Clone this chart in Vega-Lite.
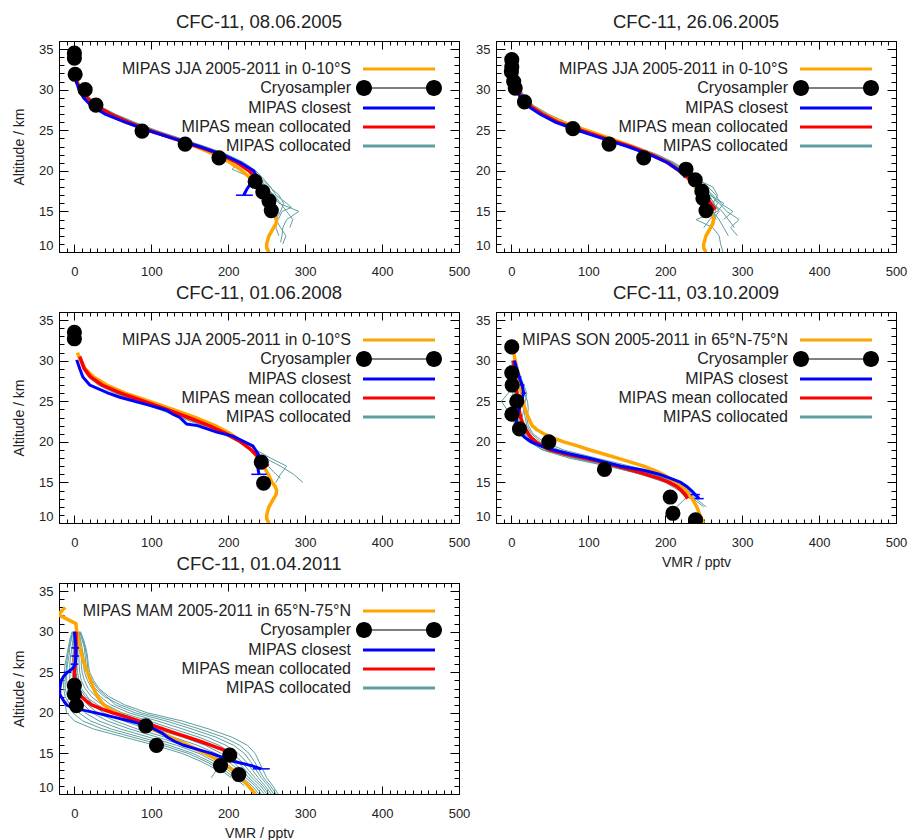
{
  "$schema": "https://vega.github.io/schema/vega-lite/v6.json",
  "background": "white",
  "padding": {"left": 12, "top": 12, "right": 5, "bottom": 5},
  "columns": 2,
  "spacing": {"row": 60, "column": 37},
  "bounds": "flush",
  "resolve": {"scale": {"fill": "independent"}, "legend": {"fill": "independent"}},
  "datasets": {
    "jja": [{"a":31,"v":4},{"a":30,"v":8},{"a":29,"v":14},{"a":28,"v":25},{"a":27,"v":42},{"a":26,"v":66},{"a":25,"v":97},{"a":24,"v":128},{"a":23,"v":157},{"a":22,"v":183},{"a":21,"v":203},{"a":20,"v":218},{"a":19,"v":230},{"a":18,"v":239},{"a":17,"v":246},{"a":16,"v":252},{"a":15,"v":257},{"a":14.5,"v":261},{"a":14,"v":263},{"a":13.5,"v":262},{"a":13,"v":259},{"a":12,"v":253},{"a":11,"v":250},{"a":10.5,"v":250},{"a":10,"v":253}],
    "son": [{"a":31.5,"v":2},{"a":31,"v":3},{"a":30,"v":5},{"a":29,"v":7},{"a":28,"v":9},{"a":27,"v":11},{"a":26,"v":13},{"a":25,"v":15},{"a":24,"v":18},{"a":23,"v":22},{"a":22,"v":27},{"a":21.5,"v":33},{"a":21,"v":42},{"a":20.5,"v":54},{"a":20,"v":68},{"a":19.5,"v":86},{"a":19,"v":102},{"a":18.5,"v":120},{"a":18,"v":138},{"a":17.5,"v":155},{"a":17,"v":172},{"a":16.5,"v":186},{"a":16,"v":197},{"a":15.5,"v":206},{"a":15,"v":214},{"a":14,"v":227},{"a":13,"v":235},{"a":12,"v":241},{"a":11,"v":245},{"a":10,"v":250}],
    "mam": [{"a":33,"v":-12},{"a":32.1,"v":-21},{"a":31,"v":2},{"a":30,"v":3},{"a":29,"v":5},{"a":28,"v":7},{"a":27,"v":10},{"a":26,"v":13},{"a":25,"v":17},{"a":24,"v":21},{"a":23,"v":25},{"a":22,"v":30},{"a":21,"v":38},{"a":20.5,"v":45},{"a":20,"v":55},{"a":19.5,"v":67},{"a":19,"v":78},{"a":18.5,"v":90},{"a":18,"v":102},{"a":17,"v":125},{"a":16,"v":148},{"a":15,"v":170},{"a":14,"v":190},{"a":13,"v":205},{"a":12,"v":216},{"a":11,"v":226},{"a":10,"v":235}],
    "p1": [
      {"s":"mean","a":31,"v":2},{"s":"mean","a":30,"v":9},{"s":"mean","a":29,"v":16},{"s":"mean","a":28,"v":28},{"s":"mean","a":27,"v":47},{"s":"mean","a":26,"v":70},{"s":"mean","a":25,"v":97},{"s":"mean","a":24,"v":129},{"s":"mean","a":23,"v":161},{"s":"mean","a":22,"v":191},{"s":"mean","a":21,"v":212},{"s":"mean","a":20,"v":227},{"s":"mean","a":19,"v":237},{"s":"mean","a":18.5,"v":241},
      {"s":"closest","a":31.5,"v":1},{"s":"closest","a":30,"v":6},{"s":"closest","a":29,"v":12},{"s":"closest","a":28,"v":22},{"s":"closest","a":27,"v":40},{"s":"closest","a":26,"v":66},{"s":"closest","a":25,"v":95},{"s":"closest","a":24,"v":128},{"s":"closest","a":23,"v":162},{"s":"closest","a":22,"v":193},{"s":"closest","a":21,"v":216},{"s":"closest","a":20,"v":233},{"s":"closest","a":19.5,"v":236},{"s":"closest","a":18.7,"v":231},{"s":"closest","a":17.7,"v":224},{"s":"closest","a":17,"v":220},
      {"s":"err","a":17,"lo":210,"hi":232},
      {"s":"cryo","a":34.5,"v":0},{"s":"cryo","a":33.9,"v":0},{"s":"cryo","a":31.9,"v":1},{"s":"cryo","a":30,"v":14},{"s":"cryo","a":28.1,"v":28},{"s":"cryo","a":24.9,"v":88},{"s":"cryo","a":23.3,"v":144},{"s":"cryo","a":21.6,"v":188},{"s":"cryo","a":18.7,"v":235},{"s":"cryo","a":17.4,"v":245},{"s":"cryo","a":16.3,"v":253},{"s":"cryo","a":15.1,"v":256},
      {"s":"coll","p":1,"a":30,"v":12},{"s":"coll","p":1,"a":29,"v":19},{"s":"coll","p":1,"a":28,"v":31},{"s":"coll","p":1,"a":27,"v":52},{"s":"coll","p":1,"a":26,"v":77},{"s":"coll","p":1,"a":25,"v":104},{"s":"coll","p":1,"a":24,"v":136},{"s":"coll","p":1,"a":23,"v":167},{"s":"coll","p":1,"a":22,"v":196},{"s":"coll","p":1,"a":21,"v":217},{"s":"coll","p":1,"a":20,"v":231},{"s":"coll","p":1,"a":19,"v":241},{"s":"coll","p":1,"a":18,"v":250},{"s":"coll","p":1,"a":17,"v":258},{"s":"coll","p":1,"a":16,"v":266},{"s":"coll","p":1,"a":15,"v":292},{"s":"coll","p":1,"a":14,"v":276},{"s":"coll","p":1,"a":13,"v":271},{"s":"coll","p":1,"a":12,"v":270},{"s":"coll","p":1,"a":11.2,"v":268},
      {"s":"coll","p":2,"a":30,"v":10},{"s":"coll","p":2,"a":29,"v":17},{"s":"coll","p":2,"a":28,"v":29},{"s":"coll","p":2,"a":27,"v":49},{"s":"coll","p":2,"a":26,"v":74},{"s":"coll","p":2,"a":25,"v":101},{"s":"coll","p":2,"a":24,"v":133},{"s":"coll","p":2,"a":23,"v":165},{"s":"coll","p":2,"a":22,"v":195},{"s":"coll","p":2,"a":21,"v":218},{"s":"coll","p":2,"a":20,"v":234},{"s":"coll","p":2,"a":19,"v":243},{"s":"coll","p":2,"a":18,"v":254},{"s":"coll","p":2,"a":17,"v":266},{"s":"coll","p":2,"a":16,"v":272},{"s":"coll","p":2,"a":15,"v":268},{"s":"coll","p":2,"a":14,"v":262},{"s":"coll","p":2,"a":13,"v":268},{"s":"coll","p":2,"a":12,"v":275},{"s":"coll","p":2,"a":11,"v":271},
      {"s":"coll","p":3,"a":30,"v":11},{"s":"coll","p":3,"a":29,"v":18},{"s":"coll","p":3,"a":28,"v":30},{"s":"coll","p":3,"a":27,"v":50},{"s":"coll","p":3,"a":26,"v":76},{"s":"coll","p":3,"a":25,"v":103},{"s":"coll","p":3,"a":24,"v":135},{"s":"coll","p":3,"a":23,"v":167},{"s":"coll","p":3,"a":22,"v":196},{"s":"coll","p":3,"a":21,"v":214},{"s":"coll","p":3,"a":20.2,"v":205},{"s":"coll","p":3,"a":19.5,"v":222},{"s":"coll","p":3,"a":18.5,"v":240},{"s":"coll","p":3,"a":17,"v":250},{"s":"coll","p":3,"a":16,"v":258},{"s":"coll","p":3,"a":15,"v":264},{"s":"coll","p":3,"a":14,"v":260},
      {"s":"coll","p":4,"a":30,"v":13},{"s":"coll","p":4,"a":29,"v":20},{"s":"coll","p":4,"a":28,"v":33},{"s":"coll","p":4,"a":27,"v":53},{"s":"coll","p":4,"a":26,"v":78},{"s":"coll","p":4,"a":25,"v":106},{"s":"coll","p":4,"a":24,"v":138},{"s":"coll","p":4,"a":23,"v":170},{"s":"coll","p":4,"a":22,"v":199},{"s":"coll","p":4,"a":21,"v":221},{"s":"coll","p":4,"a":20,"v":236},{"s":"coll","p":4,"a":19,"v":246},{"s":"coll","p":4,"a":18,"v":255},{"s":"coll","p":4,"a":17,"v":262},{"s":"coll","p":4,"a":16,"v":276},{"s":"coll","p":4,"a":15.5,"v":282},{"s":"coll","p":4,"a":15,"v":270},{"s":"coll","p":4,"a":14,"v":265},
      {"s":"coll","p":5,"a":30,"v":9},{"s":"coll","p":5,"a":29,"v":16},{"s":"coll","p":5,"a":28,"v":28},{"s":"coll","p":5,"a":27,"v":48},{"s":"coll","p":5,"a":26,"v":72},{"s":"coll","p":5,"a":25,"v":100},{"s":"coll","p":5,"a":24,"v":131},{"s":"coll","p":5,"a":23,"v":163},{"s":"coll","p":5,"a":22,"v":192},{"s":"coll","p":5,"a":21,"v":213},{"s":"coll","p":5,"a":20,"v":229},{"s":"coll","p":5,"a":19,"v":239},{"s":"coll","p":5,"a":18,"v":246},{"s":"coll","p":5,"a":17,"v":252},{"s":"coll","p":5,"a":16,"v":258},{"s":"coll","p":5,"a":15,"v":262},{"s":"coll","p":5,"a":14,"v":264},{"s":"coll","p":5,"a":13,"v":262},{"s":"coll","p":5,"a":12,"v":266},
      {"s":"coll","p":6,"a":30,"v":12},{"s":"coll","p":6,"a":29,"v":19},{"s":"coll","p":6,"a":28,"v":32},{"s":"coll","p":6,"a":27,"v":51},{"s":"coll","p":6,"a":26,"v":76},{"s":"coll","p":6,"a":25,"v":103},{"s":"coll","p":6,"a":24,"v":134},{"s":"coll","p":6,"a":23,"v":166},{"s":"coll","p":6,"a":22,"v":195},{"s":"coll","p":6,"a":21,"v":216},{"s":"coll","p":6,"a":20,"v":228},{"s":"coll","p":6,"a":19,"v":236},{"s":"coll","p":6,"a":18,"v":247},{"s":"coll","p":6,"a":17,"v":260},{"s":"coll","p":6,"a":16,"v":268},{"s":"coll","p":6,"a":15,"v":276},{"s":"coll","p":6,"a":14,"v":284},{"s":"coll","p":6,"a":13,"v":280}
    ],
    "p2": [
      {"s":"mean","a":31,"v":3},{"s":"mean","a":30,"v":8},{"s":"mean","a":29,"v":14},{"s":"mean","a":28,"v":24},{"s":"mean","a":27,"v":40},{"s":"mean","a":26,"v":60},{"s":"mean","a":25,"v":90},{"s":"mean","a":24,"v":122},{"s":"mean","a":23,"v":154},{"s":"mean","a":22,"v":182},{"s":"mean","a":21,"v":204},{"s":"mean","a":20,"v":219},{"s":"mean","a":19,"v":232},{"s":"mean","a":18,"v":243},{"s":"mean","a":17,"v":252},{"s":"mean","a":16,"v":259},{"s":"mean","a":15.2,"v":265},
      {"s":"closest","a":31.5,"v":1},{"s":"closest","a":30,"v":6},{"s":"closest","a":29,"v":12},{"s":"closest","a":28,"v":21},{"s":"closest","a":27,"v":37},{"s":"closest","a":26,"v":57},{"s":"closest","a":25,"v":86},{"s":"closest","a":24,"v":118},{"s":"closest","a":23,"v":151},{"s":"closest","a":22,"v":180},{"s":"closest","a":21,"v":203},{"s":"closest","a":20,"v":218},{"s":"closest","a":19.5,"v":224},{"s":"closest","a":19.2,"v":226},
      {"s":"cryo","a":33.7,"v":0.5},{"s":"cryo","a":32.8,"v":0.5},{"s":"cryo","a":32.2,"v":0},{"s":"cryo","a":31,"v":3},{"s":"cryo","a":30.2,"v":5},{"s":"cryo","a":28.5,"v":17},{"s":"cryo","a":25.2,"v":80},{"s":"cryo","a":23.3,"v":127},{"s":"cryo","a":21.6,"v":172},{"s":"cryo","a":20.2,"v":227},{"s":"cryo","a":18.9,"v":239},{"s":"cryo","a":17.5,"v":247.6},{"s":"cryo","a":16.6,"v":249},{"s":"cryo","a":15.1,"v":253},
      {"s":"coll","p":1,"a":30,"v":10},{"s":"coll","p":1,"a":29,"v":16},{"s":"coll","p":1,"a":28,"v":27},{"s":"coll","p":1,"a":27,"v":44},{"s":"coll","p":1,"a":26,"v":66},{"s":"coll","p":1,"a":25,"v":94},{"s":"coll","p":1,"a":24,"v":126},{"s":"coll","p":1,"a":23,"v":157},{"s":"coll","p":1,"a":22,"v":185},{"s":"coll","p":1,"a":21,"v":207},{"s":"coll","p":1,"a":20,"v":222},{"s":"coll","p":1,"a":19,"v":236},{"s":"coll","p":1,"a":18,"v":250},{"s":"coll","p":1,"a":17,"v":262},{"s":"coll","p":1,"a":16,"v":270},{"s":"coll","p":1,"a":15,"v":280},{"s":"coll","p":1,"a":14,"v":296},{"s":"coll","p":1,"a":13,"v":285},{"s":"coll","p":1,"a":12,"v":294},
      {"s":"coll","p":2,"a":30,"v":9},{"s":"coll","p":2,"a":29,"v":15},{"s":"coll","p":2,"a":28,"v":26},{"s":"coll","p":2,"a":27,"v":43},{"s":"coll","p":2,"a":26,"v":65},{"s":"coll","p":2,"a":25,"v":93},{"s":"coll","p":2,"a":24,"v":124},{"s":"coll","p":2,"a":23,"v":155},{"s":"coll","p":2,"a":22,"v":183},{"s":"coll","p":2,"a":21,"v":205},{"s":"coll","p":2,"a":20,"v":221},{"s":"coll","p":2,"a":19,"v":234},{"s":"coll","p":2,"a":18,"v":246},{"s":"coll","p":2,"a":17,"v":258},{"s":"coll","p":2,"a":16,"v":276},{"s":"coll","p":2,"a":15,"v":268},{"s":"coll","p":2,"a":14,"v":240},{"s":"coll","p":2,"a":13,"v":262},{"s":"coll","p":2,"a":12,"v":270},{"s":"coll","p":2,"a":11,"v":272},{"s":"coll","p":2,"a":10,"v":275},
      {"s":"coll","p":3,"a":30,"v":11},{"s":"coll","p":3,"a":29,"v":17},{"s":"coll","p":3,"a":28,"v":29},{"s":"coll","p":3,"a":27,"v":46},{"s":"coll","p":3,"a":26,"v":69},{"s":"coll","p":3,"a":25,"v":97},{"s":"coll","p":3,"a":24,"v":129},{"s":"coll","p":3,"a":23,"v":160},{"s":"coll","p":3,"a":22,"v":188},{"s":"coll","p":3,"a":21,"v":210},{"s":"coll","p":3,"a":20,"v":226},{"s":"coll","p":3,"a":19,"v":240},{"s":"coll","p":3,"a":18,"v":262},{"s":"coll","p":3,"a":17,"v":268},{"s":"coll","p":3,"a":16,"v":262},{"s":"coll","p":3,"a":15,"v":274},{"s":"coll","p":3,"a":14,"v":282},{"s":"coll","p":3,"a":13,"v":290},
      {"s":"coll","p":4,"a":30,"v":10},{"s":"coll","p":4,"a":29,"v":17},{"s":"coll","p":4,"a":28,"v":28},{"s":"coll","p":4,"a":27,"v":45},{"s":"coll","p":4,"a":26,"v":67},{"s":"coll","p":4,"a":25,"v":95},{"s":"coll","p":4,"a":24,"v":127},{"s":"coll","p":4,"a":23,"v":158},{"s":"coll","p":4,"a":22,"v":186},{"s":"coll","p":4,"a":21,"v":208},{"s":"coll","p":4,"a":20,"v":223},{"s":"coll","p":4,"a":19,"v":237},{"s":"coll","p":4,"a":18,"v":248},{"s":"coll","p":4,"a":17,"v":256},{"s":"coll","p":4,"a":16,"v":264},{"s":"coll","p":4,"a":15,"v":262},{"s":"coll","p":4,"a":14,"v":270},{"s":"coll","p":4,"a":13,"v":276},{"s":"coll","p":4,"a":12,"v":282},
      {"s":"coll","p":5,"a":30,"v":8},{"s":"coll","p":5,"a":29,"v":14},{"s":"coll","p":5,"a":28,"v":25},{"s":"coll","p":5,"a":27,"v":42},{"s":"coll","p":5,"a":26,"v":64},{"s":"coll","p":5,"a":25,"v":92},{"s":"coll","p":5,"a":24,"v":123},{"s":"coll","p":5,"a":23,"v":154},{"s":"coll","p":5,"a":22,"v":182},{"s":"coll","p":5,"a":21,"v":204},{"s":"coll","p":5,"a":20,"v":219},{"s":"coll","p":5,"a":19,"v":232},{"s":"coll","p":5,"a":18,"v":244},{"s":"coll","p":5,"a":17,"v":254},{"s":"coll","p":5,"a":16,"v":258},{"s":"coll","p":5,"a":15,"v":266},{"s":"coll","p":5,"a":14,"v":258},{"s":"coll","p":5,"a":13,"v":250},
      {"s":"coll","p":6,"a":30,"v":12},{"s":"coll","p":6,"a":29,"v":18},{"s":"coll","p":6,"a":28,"v":30},{"s":"coll","p":6,"a":27,"v":48},{"s":"coll","p":6,"a":26,"v":71},{"s":"coll","p":6,"a":25,"v":99},{"s":"coll","p":6,"a":24,"v":131},{"s":"coll","p":6,"a":23,"v":162},{"s":"coll","p":6,"a":22,"v":190},{"s":"coll","p":6,"a":21,"v":212},{"s":"coll","p":6,"a":20,"v":228},{"s":"coll","p":6,"a":19,"v":244},{"s":"coll","p":6,"a":18,"v":256},{"s":"coll","p":6,"a":17,"v":266},{"s":"coll","p":6,"a":16,"v":272},{"s":"coll","p":6,"a":15,"v":288},{"s":"coll","p":6,"a":14,"v":276},
      {"s":"coll","p":7,"a":30,"v":10},{"s":"coll","p":7,"a":29,"v":16},{"s":"coll","p":7,"a":28,"v":27},{"s":"coll","p":7,"a":27,"v":45},{"s":"coll","p":7,"a":26,"v":68},{"s":"coll","p":7,"a":25,"v":96},{"s":"coll","p":7,"a":24,"v":128},{"s":"coll","p":7,"a":23,"v":159},{"s":"coll","p":7,"a":22,"v":187},{"s":"coll","p":7,"a":21,"v":208},{"s":"coll","p":7,"a":20,"v":224},{"s":"coll","p":7,"a":19,"v":238},{"s":"coll","p":7,"a":18,"v":252},{"s":"coll","p":7,"a":17,"v":260},{"s":"coll","p":7,"a":16,"v":268},{"s":"coll","p":7,"a":15,"v":262},{"s":"coll","p":7,"a":14,"v":266},
      {"s":"coll","p":8,"a":30,"v":9},{"s":"coll","p":8,"a":29,"v":15},{"s":"coll","p":8,"a":28,"v":26},{"s":"coll","p":8,"a":27,"v":44},{"s":"coll","p":8,"a":26,"v":66},{"s":"coll","p":8,"a":25,"v":94},{"s":"coll","p":8,"a":24,"v":125},{"s":"coll","p":8,"a":23,"v":156},{"s":"coll","p":8,"a":22,"v":184},{"s":"coll","p":8,"a":21,"v":206},{"s":"coll","p":8,"a":20,"v":222},{"s":"coll","p":8,"a":19,"v":235},{"s":"coll","p":8,"a":18,"v":247},{"s":"coll","p":8,"a":17,"v":257},{"s":"coll","p":8,"a":16,"v":263},{"s":"coll","p":8,"a":15,"v":270},{"s":"coll","p":8,"a":14,"v":262},{"s":"coll","p":8,"a":13,"v":258}
    ],
    "p3": [
      {"s":"mean","a":30.5,"v":7},{"s":"mean","a":30,"v":9},{"s":"mean","a":29,"v":13},{"s":"mean","a":28,"v":21},{"s":"mean","a":27,"v":36},{"s":"mean","a":26,"v":60},{"s":"mean","a":25,"v":90},{"s":"mean","a":24,"v":120},{"s":"mean","a":23,"v":148},{"s":"mean","a":22,"v":175},{"s":"mean","a":21,"v":198},{"s":"mean","a":20,"v":216},{"s":"mean","a":19,"v":230},{"s":"mean","a":18,"v":241},{"s":"mean","a":17,"v":252},
      {"s":"closest","a":30.1,"v":3},{"s":"closest","a":29,"v":7},{"s":"closest","a":28,"v":11},{"s":"closest","a":27,"v":20},{"s":"closest","a":26,"v":44},{"s":"closest","a":25.5,"v":59},{"s":"closest","a":24.5,"v":98},{"s":"closest","a":23.9,"v":120},{"s":"closest","a":23.4,"v":128},{"s":"closest","a":23,"v":137},{"s":"closest","a":22.2,"v":146},{"s":"closest","a":22,"v":160},{"s":"closest","a":21.2,"v":185},{"s":"closest","a":20.7,"v":206},{"s":"closest","a":19.5,"v":232},{"s":"closest","a":18.5,"v":239},{"s":"closest","a":17.5,"v":237},{"s":"closest","a":16,"v":240},
      {"s":"err","a":16,"lo":230,"hi":250},
      {"s":"cryo","a":33.5,"v":0},{"s":"cryo","a":32.7,"v":0},{"s":"cryo","a":17.5,"v":243},{"s":"cryo","a":14.9,"v":246},
      {"s":"coll","p":1,"a":30,"v":8},{"s":"coll","p":1,"a":29,"v":12},{"s":"coll","p":1,"a":28,"v":19},{"s":"coll","p":1,"a":27,"v":33},{"s":"coll","p":1,"a":26,"v":55},{"s":"coll","p":1,"a":25,"v":83},{"s":"coll","p":1,"a":24,"v":112},{"s":"coll","p":1,"a":23,"v":140},{"s":"coll","p":1,"a":22,"v":168},{"s":"coll","p":1,"a":21,"v":193},{"s":"coll","p":1,"a":20,"v":213},{"s":"coll","p":1,"a":19,"v":230},{"s":"coll","p":1,"a":18,"v":248},{"s":"coll","p":1,"a":17,"v":268},{"s":"coll","p":1,"a":16,"v":285},{"s":"coll","p":1,"a":15,"v":297},
      {"s":"coll","p":2,"a":30,"v":9},{"s":"coll","p":2,"a":29,"v":13},{"s":"coll","p":2,"a":28,"v":21},{"s":"coll","p":2,"a":27,"v":36},{"s":"coll","p":2,"a":26,"v":58},{"s":"coll","p":2,"a":25,"v":86},{"s":"coll","p":2,"a":24,"v":116},{"s":"coll","p":2,"a":23,"v":146},{"s":"coll","p":2,"a":22,"v":175},{"s":"coll","p":2,"a":21,"v":200},{"s":"coll","p":2,"a":20,"v":220},{"s":"coll","p":2,"a":19,"v":236},{"s":"coll","p":2,"a":18,"v":255},{"s":"coll","p":2,"a":17,"v":276},{"s":"coll","p":2,"a":16,"v":268},{"s":"coll","p":2,"a":15,"v":262},
      {"s":"coll","p":3,"a":30,"v":7},{"s":"coll","p":3,"a":29,"v":11},{"s":"coll","p":3,"a":28,"v":18},{"s":"coll","p":3,"a":27,"v":31},{"s":"coll","p":3,"a":26,"v":52},{"s":"coll","p":3,"a":25,"v":80},{"s":"coll","p":3,"a":24,"v":110},{"s":"coll","p":3,"a":23,"v":138},{"s":"coll","p":3,"a":22,"v":166},{"s":"coll","p":3,"a":21,"v":192},{"s":"coll","p":3,"a":20,"v":214},{"s":"coll","p":3,"a":19,"v":232},{"s":"coll","p":3,"a":18,"v":244},{"s":"coll","p":3,"a":17,"v":252},{"s":"coll","p":3,"a":16,"v":262},{"s":"coll","p":3,"a":15.5,"v":268}
    ],
    "p4": [
      {"s":"mean","a":30,"v":3},{"s":"mean","a":29,"v":4},{"s":"mean","a":28,"v":5},{"s":"mean","a":27,"v":6},{"s":"mean","a":26,"v":7},{"s":"mean","a":25,"v":8},{"s":"mean","a":24,"v":10},{"s":"mean","a":23,"v":12},{"s":"mean","a":22,"v":16},{"s":"mean","a":21,"v":22},{"s":"mean","a":20.5,"v":26},{"s":"mean","a":20,"v":32},{"s":"mean","a":19.5,"v":40},{"s":"mean","a":19,"v":50},{"s":"mean","a":18.5,"v":70},{"s":"mean","a":18,"v":95},{"s":"mean","a":17.5,"v":118},{"s":"mean","a":17,"v":138},{"s":"mean","a":16.5,"v":157},{"s":"mean","a":16,"v":175},{"s":"mean","a":15.5,"v":192},{"s":"mean","a":15,"v":205},{"s":"mean","a":14.5,"v":215},{"s":"mean","a":14,"v":221},{"s":"mean","a":13.5,"v":226},{"s":"mean","a":13,"v":229},
      {"s":"closest","a":30,"v":4},{"s":"closest","a":29,"v":7},{"s":"closest","a":28,"v":10},{"s":"closest","a":27,"v":14},{"s":"closest","a":26,"v":16},{"s":"closest","a":25,"v":13},{"s":"closest","a":24,"v":10},{"s":"closest","a":23,"v":7},{"s":"closest","a":22,"v":6},{"s":"closest","a":21.5,"v":8},{"s":"closest","a":21,"v":12},{"s":"closest","a":20.5,"v":18},{"s":"closest","a":20,"v":26},{"s":"closest","a":19.5,"v":38},{"s":"closest","a":19,"v":55},{"s":"closest","a":18.5,"v":76},{"s":"closest","a":18,"v":100},{"s":"closest","a":17.5,"v":122},{"s":"closest","a":17,"v":142},{"s":"closest","a":16.5,"v":172},{"s":"closest","a":16,"v":192},{"s":"closest","a":15.5,"v":207},{"s":"closest","a":15,"v":220},{"s":"closest","a":14.5,"v":228},{"s":"closest","a":14,"v":234},{"s":"closest","a":13.5,"v":239},{"s":"closest","a":13,"v":244},
      {"s":"err","a":28,"lo":7,"hi":13},{"s":"err","a":27,"lo":11,"hi":17},{"s":"err","a":26,"lo":13,"hi":19},{"s":"err","a":13.5,"lo":233,"hi":245},{"s":"err","a":13,"lo":238,"hi":250},
      {"s":"cryo","a":31.7,"v":0.5},{"s":"cryo","a":28.5,"v":0.5},{"s":"cryo","a":27,"v":1},{"s":"cryo","a":25,"v":7},{"s":"cryo","a":23.4,"v":0.6},{"s":"cryo","a":21.6,"v":10.5},{"s":"cryo","a":20,"v":48.7},{"s":"cryo","a":16.6,"v":121},{"s":"cryo","a":13.2,"v":206.5},{"s":"cryo","a":11.2,"v":210},{"s":"cryo","a":10.4,"v":239.4},
      {"s":"coll","p":1,"a":30,"v":2},{"s":"coll","p":1,"a":29,"v":4},{"s":"coll","p":1,"a":28,"v":6},{"s":"coll","p":1,"a":27,"v":3},{"s":"coll","p":1,"a":26,"v":-4},{"s":"coll","p":1,"a":25,"v":-13},{"s":"coll","p":1,"a":24,"v":-6},{"s":"coll","p":1,"a":23,"v":2},{"s":"coll","p":1,"a":22,"v":8},{"s":"coll","p":1,"a":21,"v":14},{"s":"coll","p":1,"a":20,"v":24},{"s":"coll","p":1,"a":19,"v":40},{"s":"coll","p":1,"a":18,"v":75},{"s":"coll","p":1,"a":17,"v":125},{"s":"coll","p":1,"a":16,"v":170},{"s":"coll","p":1,"a":15,"v":205},{"s":"coll","p":1,"a":14,"v":222},{"s":"coll","p":1,"a":13,"v":236},{"s":"coll","p":1,"a":12,"v":250},
      {"s":"coll","p":2,"a":30,"v":5},{"s":"coll","p":2,"a":29,"v":7},{"s":"coll","p":2,"a":28,"v":10},{"s":"coll","p":2,"a":27,"v":12},{"s":"coll","p":2,"a":26,"v":14},{"s":"coll","p":2,"a":25,"v":10},{"s":"coll","p":2,"a":24,"v":6},{"s":"coll","p":2,"a":23,"v":5},{"s":"coll","p":2,"a":22,"v":9},{"s":"coll","p":2,"a":21,"v":16},{"s":"coll","p":2,"a":20,"v":28},{"s":"coll","p":2,"a":19,"v":50},{"s":"coll","p":2,"a":18,"v":92},{"s":"coll","p":2,"a":17,"v":140},{"s":"coll","p":2,"a":16,"v":182},{"s":"coll","p":2,"a":15,"v":212},{"s":"coll","p":2,"a":14,"v":230},{"s":"coll","p":2,"a":13,"v":240},{"s":"coll","p":2,"a":12,"v":253},
      {"s":"coll","p":3,"a":30,"v":0},{"s":"coll","p":3,"a":29,"v":2},{"s":"coll","p":3,"a":28,"v":3},{"s":"coll","p":3,"a":27,"v":5},{"s":"coll","p":3,"a":26,"v":8},{"s":"coll","p":3,"a":25,"v":12},{"s":"coll","p":3,"a":24,"v":16},{"s":"coll","p":3,"a":23,"v":18},{"s":"coll","p":3,"a":22,"v":20},{"s":"coll","p":3,"a":21,"v":26},{"s":"coll","p":3,"a":20,"v":38},{"s":"coll","p":3,"a":19,"v":62},{"s":"coll","p":3,"a":18,"v":105},{"s":"coll","p":3,"a":17,"v":150},{"s":"coll","p":3,"a":16,"v":190},{"s":"coll","p":3,"a":15,"v":218},{"s":"coll","p":3,"a":14,"v":232},{"s":"coll","p":3,"a":13,"v":226},{"s":"coll","p":3,"a":12,"v":215},{"s":"coll","p":3,"a":11,"v":205},
      {"s":"coll","p":4,"a":29.5,"v":-2},{"s":"coll","p":4,"a":29,"v":0},{"s":"coll","p":4,"a":28,"v":2},{"s":"coll","p":4,"a":27,"v":4},{"s":"coll","p":4,"a":26,"v":2},{"s":"coll","p":4,"a":25,"v":-2},{"s":"coll","p":4,"a":24,"v":0},{"s":"coll","p":4,"a":23,"v":4},{"s":"coll","p":4,"a":22,"v":10},{"s":"coll","p":4,"a":21,"v":18},{"s":"coll","p":4,"a":20,"v":30},{"s":"coll","p":4,"a":19,"v":52},{"s":"coll","p":4,"a":18,"v":90},{"s":"coll","p":4,"a":17,"v":135},{"s":"coll","p":4,"a":16,"v":175},{"s":"coll","p":4,"a":15,"v":205},{"s":"coll","p":4,"a":14,"v":220},{"s":"coll","p":4,"a":13,"v":232},
      {"s":"coll","p":5,"a":30,"v":3},{"s":"coll","p":5,"a":29,"v":5},{"s":"coll","p":5,"a":28,"v":8},{"s":"coll","p":5,"a":27,"v":10},{"s":"coll","p":5,"a":26,"v":12},{"s":"coll","p":5,"a":25,"v":14},{"s":"coll","p":5,"a":24,"v":12},{"s":"coll","p":5,"a":23,"v":10},{"s":"coll","p":5,"a":22,"v":14},{"s":"coll","p":5,"a":21,"v":22},{"s":"coll","p":5,"a":20,"v":35},{"s":"coll","p":5,"a":19,"v":58},{"s":"coll","p":5,"a":18,"v":98},{"s":"coll","p":5,"a":17,"v":142},{"s":"coll","p":5,"a":16,"v":185},{"s":"coll","p":5,"a":15,"v":214},{"s":"coll","p":5,"a":14,"v":228},{"s":"coll","p":5,"a":13,"v":238},
      {"s":"coll","p":6,"a":30,"v":6},{"s":"coll","p":6,"a":29,"v":9},{"s":"coll","p":6,"a":28,"v":12},{"s":"coll","p":6,"a":27,"v":16},{"s":"coll","p":6,"a":26,"v":20},{"s":"coll","p":6,"a":25,"v":18},{"s":"coll","p":6,"a":24,"v":16},{"s":"coll","p":6,"a":23,"v":14},{"s":"coll","p":6,"a":22,"v":16},{"s":"coll","p":6,"a":21,"v":22},{"s":"coll","p":6,"a":20,"v":32},{"s":"coll","p":6,"a":19,"v":50},{"s":"coll","p":6,"a":18,"v":85},{"s":"coll","p":6,"a":17,"v":128},{"s":"coll","p":6,"a":16,"v":168},{"s":"coll","p":6,"a":15,"v":200},{"s":"coll","p":6,"a":14,"v":218},{"s":"coll","p":6,"a":13,"v":228},
      {"s":"coll","p":7,"a":30,"v":1},{"s":"coll","p":7,"a":29,"v":3},{"s":"coll","p":7,"a":28,"v":5},{"s":"coll","p":7,"a":27,"v":7},{"s":"coll","p":7,"a":26,"v":9},{"s":"coll","p":7,"a":25,"v":6},{"s":"coll","p":7,"a":24,"v":3},{"s":"coll","p":7,"a":23,"v":3},{"s":"coll","p":7,"a":22,"v":6},{"s":"coll","p":7,"a":21,"v":12},{"s":"coll","p":7,"a":20,"v":22},{"s":"coll","p":7,"a":19,"v":42},{"s":"coll","p":7,"a":18,"v":80},{"s":"coll","p":7,"a":17,"v":128},{"s":"coll","p":7,"a":16,"v":176},{"s":"coll","p":7,"a":15,"v":210},{"s":"coll","p":7,"a":14,"v":226},
      {"s":"coll","p":8,"a":30,"v":4},{"s":"coll","p":8,"a":29,"v":6},{"s":"coll","p":8,"a":28,"v":9},{"s":"coll","p":8,"a":27,"v":13},{"s":"coll","p":8,"a":26,"v":17},{"s":"coll","p":8,"a":25,"v":21},{"s":"coll","p":8,"a":24,"v":22},{"s":"coll","p":8,"a":23,"v":20},{"s":"coll","p":8,"a":22,"v":22},{"s":"coll","p":8,"a":21,"v":28},{"s":"coll","p":8,"a":20,"v":42},{"s":"coll","p":8,"a":19,"v":68},{"s":"coll","p":8,"a":18,"v":110},{"s":"coll","p":8,"a":17,"v":155},{"s":"coll","p":8,"a":16,"v":196},{"s":"coll","p":8,"a":15,"v":222},{"s":"coll","p":8,"a":14,"v":236},{"s":"coll","p":8,"a":13,"v":244},
      {"s":"coll","p":9,"a":30,"v":2},{"s":"coll","p":9,"a":29,"v":4},{"s":"coll","p":9,"a":28,"v":6},{"s":"coll","p":9,"a":27,"v":9},{"s":"coll","p":9,"a":26,"v":4},{"s":"coll","p":9,"a":25,"v":0},{"s":"coll","p":9,"a":24,"v":4},{"s":"coll","p":9,"a":23,"v":8},{"s":"coll","p":9,"a":22,"v":12},{"s":"coll","p":9,"a":21,"v":18},{"s":"coll","p":9,"a":20,"v":28},{"s":"coll","p":9,"a":19,"v":45},{"s":"coll","p":9,"a":18,"v":82},{"s":"coll","p":9,"a":17,"v":132},{"s":"coll","p":9,"a":16,"v":178},{"s":"coll","p":9,"a":15,"v":208},{"s":"coll","p":9,"a":14,"v":224},{"s":"coll","p":9,"a":13,"v":234},
      {"s":"coll","p":10,"a":30,"v":3},{"s":"coll","p":10,"a":29,"v":6},{"s":"coll","p":10,"a":28,"v":8},{"s":"coll","p":10,"a":27,"v":11},{"s":"coll","p":10,"a":26,"v":14},{"s":"coll","p":10,"a":25,"v":8},{"s":"coll","p":10,"a":24,"v":2},{"s":"coll","p":10,"a":23,"v":0},{"s":"coll","p":10,"a":22,"v":5},{"s":"coll","p":10,"a":21,"v":13},{"s":"coll","p":10,"a":20,"v":25},{"s":"coll","p":10,"a":19,"v":48},{"s":"coll","p":10,"a":18,"v":88},{"s":"coll","p":10,"a":17,"v":138},{"s":"coll","p":10,"a":16,"v":180},{"s":"coll","p":10,"a":15,"v":210},{"s":"coll","p":10,"a":14,"v":225},{"s":"coll","p":10,"a":13,"v":235}
    ],
    "p5": [
      {"s":"mean","a":30,"v":2},{"s":"mean","a":29,"v":2},{"s":"mean","a":28,"v":2},{"s":"mean","a":27,"v":1},{"s":"mean","a":26,"v":1},{"s":"mean","a":25,"v":0},{"s":"mean","a":24,"v":1},{"s":"mean","a":23,"v":3},{"s":"mean","a":22,"v":9},{"s":"mean","a":21.5,"v":15},{"s":"mean","a":21,"v":22},{"s":"mean","a":20.5,"v":35},{"s":"mean","a":20,"v":50},{"s":"mean","a":19.5,"v":68},{"s":"mean","a":19,"v":84},{"s":"mean","a":18.5,"v":100},{"s":"mean","a":18,"v":116},{"s":"mean","a":17.5,"v":131},{"s":"mean","a":17,"v":147},{"s":"mean","a":16.5,"v":163},{"s":"mean","a":16,"v":178},{"s":"mean","a":15.5,"v":192},{"s":"mean","a":15,"v":204},
      {"s":"closest","a":30,"v":0},{"s":"closest","a":29,"v":1},{"s":"closest","a":28,"v":2},{"s":"closest","a":27,"v":2},{"s":"closest","a":26,"v":1},{"s":"closest","a":25.5,"v":-2},{"s":"closest","a":25,"v":-9},{"s":"closest","a":24.5,"v":-14},{"s":"closest","a":24,"v":-17},{"s":"closest","a":23,"v":-19},{"s":"closest","a":22.3,"v":-19},{"s":"closest","a":21.8,"v":-16},{"s":"closest","a":21.2,"v":-12},{"s":"closest","a":20.9,"v":-9},{"s":"closest","a":20.6,"v":0},{"s":"closest","a":20.3,"v":13},{"s":"closest","a":20,"v":28},{"s":"closest","a":19.5,"v":50},{"s":"closest","a":19,"v":72},{"s":"closest","a":18.5,"v":92},{"s":"closest","a":18,"v":104},{"s":"closest","a":17.5,"v":114},{"s":"closest","a":17,"v":121},{"s":"closest","a":16.5,"v":130},{"s":"closest","a":16,"v":142},{"s":"closest","a":15.5,"v":160},{"s":"closest","a":15,"v":178},{"s":"closest","a":14.5,"v":193},{"s":"closest","a":14,"v":208},{"s":"closest","a":13.5,"v":230},{"s":"closest","a":13.1,"v":243},
      {"s":"err","a":28,"lo":-4,"hi":6},{"s":"err","a":27,"lo":-4,"hi":6},{"s":"err","a":26,"lo":-5,"hi":5},{"s":"err","a":25,"lo":-14,"hi":-4},{"s":"err","a":13.1,"lo":232,"hi":254},
      {"s":"cryo","a":23.4,"v":0},{"s":"cryo","a":22.3,"v":0},{"s":"cryo","a":20.9,"v":2.6},{"s":"cryo","a":18.4,"v":92.8},{"s":"cryo","a":16,"v":106.7},{"s":"cryo","a":14.8,"v":202},{"s":"cryo","a":13.5,"v":190},{"s":"cryo","a":12.4,"v":213.8},
      {"s":"coll","p":1,"a":30,"v":-2},{"s":"coll","p":1,"a":29,"v":-4},{"s":"coll","p":1,"a":28,"v":-6},{"s":"coll","p":1,"a":27,"v":-7},{"s":"coll","p":1,"a":26,"v":-9},{"s":"coll","p":1,"a":25,"v":-10},{"s":"coll","p":1,"a":24,"v":-10},{"s":"coll","p":1,"a":23,"v":-9},{"s":"coll","p":1,"a":22,"v":-6},{"s":"coll","p":1,"a":21,"v":-12},{"s":"coll","p":1,"a":20,"v":-10},{"s":"coll","p":1,"a":19,"v":0},{"s":"coll","p":1,"a":18,"v":25},{"s":"coll","p":1,"a":17,"v":65},{"s":"coll","p":1,"a":16,"v":105},{"s":"coll","p":1,"a":15,"v":140},{"s":"coll","p":1,"a":14,"v":165},{"s":"coll","p":1,"a":13,"v":185},{"s":"coll","p":1,"a":12,"v":178},
      {"s":"coll","p":2,"a":30,"v":-3},{"s":"coll","p":2,"a":29,"v":-6},{"s":"coll","p":2,"a":28,"v":-8},{"s":"coll","p":2,"a":27,"v":-10},{"s":"coll","p":2,"a":26,"v":-12},{"s":"coll","p":2,"a":25,"v":-13},{"s":"coll","p":2,"a":24,"v":-14},{"s":"coll","p":2,"a":23,"v":-14},{"s":"coll","p":2,"a":22,"v":-12},{"s":"coll","p":2,"a":21,"v":-6},{"s":"coll","p":2,"a":20,"v":-2},{"s":"coll","p":2,"a":19,"v":11},{"s":"coll","p":2,"a":18,"v":37},{"s":"coll","p":2,"a":17,"v":76},{"s":"coll","p":2,"a":16,"v":115},{"s":"coll","p":2,"a":15,"v":148},{"s":"coll","p":2,"a":14,"v":171},{"s":"coll","p":2,"a":13,"v":190},{"s":"coll","p":2,"a":12,"v":204},
      {"s":"coll","p":3,"a":30,"v":-1},{"s":"coll","p":3,"a":29,"v":-2},{"s":"coll","p":3,"a":28,"v":-3},{"s":"coll","p":3,"a":27,"v":-5},{"s":"coll","p":3,"a":26,"v":-6},{"s":"coll","p":3,"a":25,"v":-6},{"s":"coll","p":3,"a":24,"v":-6},{"s":"coll","p":3,"a":23,"v":-5},{"s":"coll","p":3,"a":22,"v":-1},{"s":"coll","p":3,"a":21,"v":0},{"s":"coll","p":3,"a":20,"v":6},{"s":"coll","p":3,"a":19,"v":21},{"s":"coll","p":3,"a":18,"v":48},{"s":"coll","p":3,"a":17,"v":86},{"s":"coll","p":3,"a":16,"v":123},{"s":"coll","p":3,"a":15,"v":154},{"s":"coll","p":3,"a":14,"v":176},{"s":"coll","p":3,"a":13,"v":194},{"s":"coll","p":3,"a":12,"v":208},{"s":"coll","p":3,"a":11,"v":221},
      {"s":"coll","p":4,"a":30,"v":0},{"s":"coll","p":4,"a":29,"v":-1},{"s":"coll","p":4,"a":28,"v":-1},{"s":"coll","p":4,"a":27,"v":-2},{"s":"coll","p":4,"a":26,"v":-3},{"s":"coll","p":4,"a":25,"v":-3},{"s":"coll","p":4,"a":24,"v":-2},{"s":"coll","p":4,"a":23,"v":0},{"s":"coll","p":4,"a":22,"v":5},{"s":"coll","p":4,"a":21,"v":6},{"s":"coll","p":4,"a":20,"v":14},{"s":"coll","p":4,"a":19,"v":32},{"s":"coll","p":4,"a":18,"v":60},{"s":"coll","p":4,"a":17,"v":97},{"s":"coll","p":4,"a":16,"v":133},{"s":"coll","p":4,"a":15,"v":162},{"s":"coll","p":4,"a":14,"v":182},{"s":"coll","p":4,"a":13,"v":199},{"s":"coll","p":4,"a":12,"v":212},{"s":"coll","p":4,"a":11,"v":225},
      {"s":"coll","p":5,"a":30,"v":-2},{"s":"coll","p":5,"a":29,"v":-5},{"s":"coll","p":5,"a":28,"v":-7},{"s":"coll","p":5,"a":27,"v":-9},{"s":"coll","p":5,"a":26,"v":-10},{"s":"coll","p":5,"a":25,"v":-11},{"s":"coll","p":5,"a":24,"v":-12},{"s":"coll","p":5,"a":23,"v":-12},{"s":"coll","p":5,"a":22,"v":-9},{"s":"coll","p":5,"a":21,"v":12},{"s":"coll","p":5,"a":20,"v":23},{"s":"coll","p":5,"a":19,"v":43},{"s":"coll","p":5,"a":18,"v":72},{"s":"coll","p":5,"a":17,"v":108},{"s":"coll","p":5,"a":16,"v":142},{"s":"coll","p":5,"a":15,"v":169},{"s":"coll","p":5,"a":14,"v":188},{"s":"coll","p":5,"a":13,"v":204},{"s":"coll","p":5,"a":12,"v":216},{"s":"coll","p":5,"a":11,"v":228},{"s":"coll","p":5,"a":10,"v":237},
      {"s":"coll","p":6,"a":30,"v":1},{"s":"coll","p":6,"a":29,"v":1},{"s":"coll","p":6,"a":28,"v":1},{"s":"coll","p":6,"a":27,"v":1},{"s":"coll","p":6,"a":26,"v":0},{"s":"coll","p":6,"a":25,"v":0},{"s":"coll","p":6,"a":24,"v":2},{"s":"coll","p":6,"a":23,"v":4},{"s":"coll","p":6,"a":22,"v":11},{"s":"coll","p":6,"a":21,"v":17},{"s":"coll","p":6,"a":20,"v":30},{"s":"coll","p":6,"a":19,"v":53},{"s":"coll","p":6,"a":18,"v":82},{"s":"coll","p":6,"a":17,"v":118},{"s":"coll","p":6,"a":16,"v":151},{"s":"coll","p":6,"a":15,"v":176},{"s":"coll","p":6,"a":14,"v":194},{"s":"coll","p":6,"a":13,"v":208},{"s":"coll","p":6,"a":12,"v":219},{"s":"coll","p":6,"a":11,"v":231},{"s":"coll","p":6,"a":10,"v":240},
      {"s":"coll","p":7,"a":30,"v":3},{"s":"coll","p":7,"a":29,"v":3},{"s":"coll","p":7,"a":28,"v":4},{"s":"coll","p":7,"a":27,"v":4},{"s":"coll","p":7,"a":26,"v":3},{"s":"coll","p":7,"a":25,"v":4},{"s":"coll","p":7,"a":24,"v":6},{"s":"coll","p":7,"a":23,"v":9},{"s":"coll","p":7,"a":22,"v":17},{"s":"coll","p":7,"a":21,"v":23},{"s":"coll","p":7,"a":20,"v":38},{"s":"coll","p":7,"a":19,"v":64},{"s":"coll","p":7,"a":18,"v":94},{"s":"coll","p":7,"a":17,"v":129},{"s":"coll","p":7,"a":16,"v":160},{"s":"coll","p":7,"a":15,"v":184},{"s":"coll","p":7,"a":14,"v":200},{"s":"coll","p":7,"a":13,"v":213},{"s":"coll","p":7,"a":12,"v":223},{"s":"coll","p":7,"a":11,"v":235},{"s":"coll","p":7,"a":10,"v":243},
      {"s":"coll","p":8,"a":30,"v":2},{"s":"coll","p":8,"a":29,"v":2},{"s":"coll","p":8,"a":28,"v":2},{"s":"coll","p":8,"a":27,"v":2},{"s":"coll","p":8,"a":26,"v":2},{"s":"coll","p":8,"a":25,"v":2},{"s":"coll","p":8,"a":24,"v":4},{"s":"coll","p":8,"a":23,"v":7},{"s":"coll","p":8,"a":22,"v":14},{"s":"coll","p":8,"a":21,"v":30},{"s":"coll","p":8,"a":20,"v":47},{"s":"coll","p":8,"a":19,"v":76},{"s":"coll","p":8,"a":18,"v":106},{"s":"coll","p":8,"a":17,"v":141},{"s":"coll","p":8,"a":16,"v":170},{"s":"coll","p":8,"a":15,"v":191},{"s":"coll","p":8,"a":14,"v":206},{"s":"coll","p":8,"a":13,"v":217},{"s":"coll","p":8,"a":12,"v":227},{"s":"coll","p":8,"a":11,"v":238},{"s":"coll","p":8,"a":10,"v":247},
      {"s":"coll","p":9,"a":30,"v":4},{"s":"coll","p":9,"a":29,"v":5},{"s":"coll","p":9,"a":28,"v":6},{"s":"coll","p":9,"a":27,"v":6},{"s":"coll","p":9,"a":26,"v":6},{"s":"coll","p":9,"a":25,"v":7},{"s":"coll","p":9,"a":24,"v":9},{"s":"coll","p":9,"a":23,"v":14},{"s":"coll","p":9,"a":22,"v":22},{"s":"coll","p":9,"a":21,"v":36},{"s":"coll","p":9,"a":20,"v":55},{"s":"coll","p":9,"a":19,"v":87},{"s":"coll","p":9,"a":18,"v":118},{"s":"coll","p":9,"a":17,"v":152},{"s":"coll","p":9,"a":16,"v":179},{"s":"coll","p":9,"a":15,"v":199},{"s":"coll","p":9,"a":14,"v":212},{"s":"coll","p":9,"a":13,"v":222},{"s":"coll","p":9,"a":12,"v":231},{"s":"coll","p":9,"a":11,"v":242},{"s":"coll","p":9,"a":10,"v":250},
      {"s":"coll","p":10,"a":30,"v":5},{"s":"coll","p":10,"a":29,"v":7},{"s":"coll","p":10,"a":28,"v":8},{"s":"coll","p":10,"a":27,"v":9},{"s":"coll","p":10,"a":26,"v":9},{"s":"coll","p":10,"a":25,"v":10},{"s":"coll","p":10,"a":24,"v":13},{"s":"coll","p":10,"a":23,"v":18},{"s":"coll","p":10,"a":22,"v":28},{"s":"coll","p":10,"a":21,"v":41},{"s":"coll","p":10,"a":20,"v":62},{"s":"coll","p":10,"a":19,"v":97},{"s":"coll","p":10,"a":18,"v":129},{"s":"coll","p":10,"a":17,"v":162},{"s":"coll","p":10,"a":16,"v":188},{"s":"coll","p":10,"a":15,"v":206},{"s":"coll","p":10,"a":14,"v":217},{"s":"coll","p":10,"a":13,"v":226},{"s":"coll","p":10,"a":12,"v":235},{"s":"coll","p":10,"a":11,"v":245},{"s":"coll","p":10,"a":10,"v":253},
      {"s":"coll","p":11,"a":30,"v":6},{"s":"coll","p":11,"a":29,"v":8},{"s":"coll","p":11,"a":28,"v":10},{"s":"coll","p":11,"a":27,"v":12},{"s":"coll","p":11,"a":26,"v":12},{"s":"coll","p":11,"a":25,"v":13},{"s":"coll","p":11,"a":24,"v":17},{"s":"coll","p":11,"a":23,"v":23},{"s":"coll","p":11,"a":22,"v":34},{"s":"coll","p":11,"a":21,"v":47},{"s":"coll","p":11,"a":20,"v":71},{"s":"coll","p":11,"a":19,"v":108},{"s":"coll","p":11,"a":18,"v":141},{"s":"coll","p":11,"a":17,"v":173},{"s":"coll","p":11,"a":16,"v":197},{"s":"coll","p":11,"a":15,"v":213},{"s":"coll","p":11,"a":14,"v":223},{"s":"coll","p":11,"a":13,"v":231},{"s":"coll","p":11,"a":12,"v":239},{"s":"coll","p":11,"a":11,"v":248},{"s":"coll","p":11,"a":10,"v":256},
      {"s":"coll","p":12,"a":30,"v":7},{"s":"coll","p":12,"a":29,"v":11},{"s":"coll","p":12,"a":28,"v":14},{"s":"coll","p":12,"a":27,"v":16},{"s":"coll","p":12,"a":26,"v":17},{"s":"coll","p":12,"a":25,"v":18},{"s":"coll","p":12,"a":24,"v":23},{"s":"coll","p":12,"a":23,"v":30},{"s":"coll","p":12,"a":22,"v":42},{"s":"coll","p":12,"a":21,"v":53},{"s":"coll","p":12,"a":20,"v":79},{"s":"coll","p":12,"a":19,"v":119},{"s":"coll","p":12,"a":18,"v":153},{"s":"coll","p":12,"a":17,"v":184},{"s":"coll","p":12,"a":16,"v":207},{"s":"coll","p":12,"a":15,"v":221},{"s":"coll","p":12,"a":14,"v":229},{"s":"coll","p":12,"a":13,"v":236},{"s":"coll","p":12,"a":12,"v":243},{"s":"coll","p":12,"a":11,"v":252},{"s":"coll","p":12,"a":10,"v":259},
      {"s":"coll","p":13,"a":30,"v":7},{"s":"coll","p":13,"a":29,"v":10},{"s":"coll","p":13,"a":28,"v":13},{"s":"coll","p":13,"a":27,"v":14},{"s":"coll","p":13,"a":26,"v":15},{"s":"coll","p":13,"a":25,"v":17},{"s":"coll","p":13,"a":24,"v":21},{"s":"coll","p":13,"a":23,"v":27},{"s":"coll","p":13,"a":22,"v":39},{"s":"coll","p":13,"a":21,"v":59},{"s":"coll","p":13,"a":20,"v":87},{"s":"coll","p":13,"a":19,"v":129},{"s":"coll","p":13,"a":18,"v":163},{"s":"coll","p":13,"a":17,"v":194},{"s":"coll","p":13,"a":16,"v":215},{"s":"coll","p":13,"a":15,"v":227},{"s":"coll","p":13,"a":14,"v":234},{"s":"coll","p":13,"a":13,"v":240},{"s":"coll","p":13,"a":12,"v":246},{"s":"coll","p":13,"a":11,"v":255},{"s":"coll","p":13,"a":10,"v":262},
      {"s":"coll","p":14,"a":30,"v":8},{"s":"coll","p":14,"a":29,"v":12},{"s":"coll","p":14,"a":28,"v":15},{"s":"coll","p":14,"a":27,"v":17},{"s":"coll","p":14,"a":26,"v":18},{"s":"coll","p":14,"a":25,"v":20},{"s":"coll","p":14,"a":24,"v":25},{"s":"coll","p":14,"a":23,"v":32},{"s":"coll","p":14,"a":22,"v":45},{"s":"coll","p":14,"a":21,"v":65},{"s":"coll","p":14,"a":20,"v":95},{"s":"coll","p":14,"a":19,"v":140},{"s":"coll","p":14,"a":18,"v":175},{"s":"coll","p":14,"a":17,"v":205},{"s":"coll","p":14,"a":16,"v":225},{"s":"coll","p":14,"a":15,"v":235},{"s":"coll","p":14,"a":14,"v":240},{"s":"coll","p":14,"a":13,"v":245},{"s":"coll","p":14,"a":12,"v":250},{"s":"coll","p":14,"a":11,"v":258},{"s":"coll","p":14,"a":10,"v":265}
    ]
  },
  "concat": [
    {
      "width": 400, "height": 211,
      "title": "CFC-11, 08.06.2005",
      "data": {"name": "p1"},
      "resolve": {"axis": {"x": "independent", "y": "independent"}},
      "layer": [
        {"transform": [{"filter": "datum.s === 'coll'"}],
         "mark": {"type": "line", "color": "#5F9EA0", "strokeWidth": 1, "clip": true},
         "encoding": {
           "x": {"field": "v", "type": "quantitative", "scale": {"domain": [-20, 500], "nice": false, "zero": false}, "axis": {"orient": "bottom", "values": [0,100,200,300,400,500], "tickSize": -8, "labelPadding": 21, "labelFlush": false, "title": null}},
           "y": {"field": "a", "type": "quantitative", "scale": {"domain": [10, 36], "nice": false, "zero": false}, "axis": {"orient": "left", "values": [10,15,20,25,30,35], "tickSize": -9, "labelPadding": 15, "labelFlush": 1, "title": "Altitude / km", "titlePadding": 12}},
           "detail": {"field": "p"},
           "order": {"field": "a", "type": "quantitative"}}},
        {"data": {"name": "jja"},
         "mark": {"type": "line", "color": "#FFA500", "strokeWidth": 3.5, "clip": true},
         "encoding": {
           "x": {"field": "v", "type": "quantitative", "axis": {"orient": "bottom", "values": [-20,-10,0,10,20,30,40,50,60,70,80,90,100,110,120,130,140,150,160,170,180,190,200,210,220,230,240,250,260,270,280,290,300,310,320,330,340,350,360,370,380,390,400,410,420,430,440,450,460,470,480,490,500], "tickSize": -4, "labels": false, "title": null}},
           "y": {"field": "a", "type": "quantitative", "axis": {"orient": "left", "values": [10,11,12,13,14,15,16,17,18,19,20,21,22,23,24,25,26,27,28,29,30,31,32,33,34,35,36], "tickSize": -5, "labels": false, "title": null}},
           "order": {"field": "a", "type": "quantitative"}}},
        {"transform": [{"filter": "datum.s === 'mean'"}],
         "mark": {"type": "line", "color": "#FF0000", "strokeWidth": 3.5, "clip": true},
         "encoding": {
           "x": {"field": "v", "type": "quantitative", "axis": {"orient": "top", "values": [0,100,200,300,400,500], "tickSize": -8, "labels": false, "title": null}},
           "y": {"field": "a", "type": "quantitative", "axis": {"orient": "right", "values": [10,15,20,25,30,35], "tickSize": -9, "labels": false, "title": null}},
           "order": {"field": "a", "type": "quantitative"}}},
        {"transform": [{"filter": "datum.s === 'closest'"}],
         "mark": {"type": "line", "color": "#0000FF", "strokeWidth": 3, "clip": true},
         "encoding": {
           "x": {"field": "v", "type": "quantitative", "axis": {"orient": "top", "values": [-20,-10,0,10,20,30,40,50,60,70,80,90,100,110,120,130,140,150,160,170,180,190,200,210,220,230,240,250,260,270,280,290,300,310,320,330,340,350,360,370,380,390,400,410,420,430,440,450,460,470,480,490,500], "tickSize": -4, "labels": false, "title": null}},
           "y": {"field": "a", "type": "quantitative", "axis": {"orient": "right", "values": [10,11,12,13,14,15,16,17,18,19,20,21,22,23,24,25,26,27,28,29,30,31,32,33,34,35,36], "tickSize": -5, "labels": false, "title": null}},
           "order": {"field": "a", "type": "quantitative"}}},
        {"transform": [{"filter": "datum.s === 'err'"}],
         "mark": {"type": "rule", "color": "#0000FF", "strokeWidth": 1.5, "clip": true},
         "encoding": {
           "x": {"field": "lo", "type": "quantitative", "axis": null},
           "x2": {"field": "hi"},
           "y": {"field": "a", "type": "quantitative", "axis": null}}},
        {"transform": [{"filter": "datum.s === 'cryo'"}],
         "mark": {"type": "point", "filled": true, "size": 230, "opacity": 1, "strokeWidth": 0, "clip": true},
         "encoding": {
           "x": {"field": "v", "type": "quantitative", "axis": null},
           "y": {"field": "a", "type": "quantitative", "axis": null},
           "fill": {"field": "s", "type": "nominal",
             "scale": {"domain": ["clim","cryo","closest","mean","coll"], "range": ["#FFA500","#000000","#0000FF","#FF0000","#5F9EA0"]},
             "legend": {"title": null,
               "labelExpr": "{'clim':'MIPAS JJA 2005-2011 in 0-10°S','cryo':'Cryosampler','closest':'MIPAS closest','mean':'MIPAS mean collocated','coll':'MIPAS collocated'}[datum.value]",
               "symbolType": {"expr": "datum.value === 'cryo' ? 'M-29.09,0M0.0909,-0.7273A0.7273,0.7273,0,1,1,0.0909,0.7273A0.7273,0.7273,0,1,1,0.0909,-0.7273ZM6.4545,-0.7273A0.7273,0.7273,0,1,1,6.4545,0.7273A0.7273,0.7273,0,1,1,6.4545,-0.7273ZM0.0909,-0.0455H6.4545V0.0455H0.0909Z' : 'M-29.09,0M0,-0.1364H6.545V0.1364H0Z'"}}}}}
      ]
    },
    {
      "width": 400, "height": 211,
      "title": "CFC-11, 26.06.2005",
      "data": {"name": "p2"},
      "resolve": {"axis": {"x": "independent", "y": "independent"}},
      "layer": [
        {"transform": [{"filter": "datum.s === 'coll'"}],
         "mark": {"type": "line", "color": "#5F9EA0", "strokeWidth": 1, "clip": true},
         "encoding": {
           "x": {"field": "v", "type": "quantitative", "scale": {"domain": [-20, 500], "nice": false, "zero": false}, "axis": {"orient": "bottom", "values": [0,100,200,300,400,500], "tickSize": -8, "labelPadding": 21, "labelFlush": false, "title": null}},
           "y": {"field": "a", "type": "quantitative", "scale": {"domain": [10, 36], "nice": false, "zero": false}, "axis": {"orient": "left", "values": [10,15,20,25,30,35], "tickSize": -9, "labelPadding": 15, "labelFlush": 1, "title": null}},
           "detail": {"field": "p"},
           "order": {"field": "a", "type": "quantitative"}}},
        {"data": {"name": "jja"},
         "mark": {"type": "line", "color": "#FFA500", "strokeWidth": 3.5, "clip": true},
         "encoding": {
           "x": {"field": "v", "type": "quantitative", "axis": {"orient": "bottom", "values": [-20,-10,0,10,20,30,40,50,60,70,80,90,100,110,120,130,140,150,160,170,180,190,200,210,220,230,240,250,260,270,280,290,300,310,320,330,340,350,360,370,380,390,400,410,420,430,440,450,460,470,480,490,500], "tickSize": -4, "labels": false, "title": null}},
           "y": {"field": "a", "type": "quantitative", "axis": {"orient": "left", "values": [10,11,12,13,14,15,16,17,18,19,20,21,22,23,24,25,26,27,28,29,30,31,32,33,34,35,36], "tickSize": -5, "labels": false, "title": null}},
           "order": {"field": "a", "type": "quantitative"}}},
        {"transform": [{"filter": "datum.s === 'mean'"}],
         "mark": {"type": "line", "color": "#FF0000", "strokeWidth": 3.5, "clip": true},
         "encoding": {
           "x": {"field": "v", "type": "quantitative", "axis": {"orient": "top", "values": [0,100,200,300,400,500], "tickSize": -8, "labels": false, "title": null}},
           "y": {"field": "a", "type": "quantitative", "axis": {"orient": "right", "values": [10,15,20,25,30,35], "tickSize": -9, "labels": false, "title": null}},
           "order": {"field": "a", "type": "quantitative"}}},
        {"transform": [{"filter": "datum.s === 'closest'"}],
         "mark": {"type": "line", "color": "#0000FF", "strokeWidth": 3, "clip": true},
         "encoding": {
           "x": {"field": "v", "type": "quantitative", "axis": {"orient": "top", "values": [-20,-10,0,10,20,30,40,50,60,70,80,90,100,110,120,130,140,150,160,170,180,190,200,210,220,230,240,250,260,270,280,290,300,310,320,330,340,350,360,370,380,390,400,410,420,430,440,450,460,470,480,490,500], "tickSize": -4, "labels": false, "title": null}},
           "y": {"field": "a", "type": "quantitative", "axis": {"orient": "right", "values": [10,11,12,13,14,15,16,17,18,19,20,21,22,23,24,25,26,27,28,29,30,31,32,33,34,35,36], "tickSize": -5, "labels": false, "title": null}},
           "order": {"field": "a", "type": "quantitative"}}},
        {"transform": [{"filter": "datum.s === 'cryo'"}],
         "mark": {"type": "point", "filled": true, "size": 230, "opacity": 1, "strokeWidth": 0, "clip": true},
         "encoding": {
           "x": {"field": "v", "type": "quantitative", "axis": null},
           "y": {"field": "a", "type": "quantitative", "axis": null},
           "fill": {"field": "s", "type": "nominal",
             "scale": {"domain": ["clim","cryo","closest","mean","coll"], "range": ["#FFA500","#000000","#0000FF","#FF0000","#5F9EA0"]},
             "legend": {"title": null,
               "labelExpr": "{'clim':'MIPAS JJA 2005-2011 in 0-10°S','cryo':'Cryosampler','closest':'MIPAS closest','mean':'MIPAS mean collocated','coll':'MIPAS collocated'}[datum.value]",
               "symbolType": {"expr": "datum.value === 'cryo' ? 'M-29.09,0M0.0909,-0.7273A0.7273,0.7273,0,1,1,0.0909,0.7273A0.7273,0.7273,0,1,1,0.0909,-0.7273ZM6.4545,-0.7273A0.7273,0.7273,0,1,1,6.4545,0.7273A0.7273,0.7273,0,1,1,6.4545,-0.7273ZM0.0909,-0.0455H6.4545V0.0455H0.0909Z' : 'M-29.09,0M0,-0.1364H6.545V0.1364H0Z'"}}}}}
      ]
    },
    {
      "width": 400, "height": 211,
      "title": "CFC-11, 01.06.2008",
      "data": {"name": "p3"},
      "resolve": {"axis": {"x": "independent", "y": "independent"}},
      "layer": [
        {"transform": [{"filter": "datum.s === 'coll'"}],
         "mark": {"type": "line", "color": "#5F9EA0", "strokeWidth": 1, "clip": true},
         "encoding": {
           "x": {"field": "v", "type": "quantitative", "scale": {"domain": [-20, 500], "nice": false, "zero": false}, "axis": {"orient": "bottom", "values": [0,100,200,300,400,500], "tickSize": -8, "labelPadding": 21, "labelFlush": false, "title": null}},
           "y": {"field": "a", "type": "quantitative", "scale": {"domain": [10, 36], "nice": false, "zero": false}, "axis": {"orient": "left", "values": [10,15,20,25,30,35], "tickSize": -9, "labelPadding": 15, "labelFlush": 1, "title": "Altitude / km", "titlePadding": 12}},
           "detail": {"field": "p"},
           "order": {"field": "a", "type": "quantitative"}}},
        {"data": {"name": "jja"},
         "mark": {"type": "line", "color": "#FFA500", "strokeWidth": 3.5, "clip": true},
         "encoding": {
           "x": {"field": "v", "type": "quantitative", "axis": {"orient": "bottom", "values": [-20,-10,0,10,20,30,40,50,60,70,80,90,100,110,120,130,140,150,160,170,180,190,200,210,220,230,240,250,260,270,280,290,300,310,320,330,340,350,360,370,380,390,400,410,420,430,440,450,460,470,480,490,500], "tickSize": -4, "labels": false, "title": null}},
           "y": {"field": "a", "type": "quantitative", "axis": {"orient": "left", "values": [10,11,12,13,14,15,16,17,18,19,20,21,22,23,24,25,26,27,28,29,30,31,32,33,34,35,36], "tickSize": -5, "labels": false, "title": null}},
           "order": {"field": "a", "type": "quantitative"}}},
        {"transform": [{"filter": "datum.s === 'mean'"}],
         "mark": {"type": "line", "color": "#FF0000", "strokeWidth": 3.5, "clip": true},
         "encoding": {
           "x": {"field": "v", "type": "quantitative", "axis": {"orient": "top", "values": [0,100,200,300,400,500], "tickSize": -8, "labels": false, "title": null}},
           "y": {"field": "a", "type": "quantitative", "axis": {"orient": "right", "values": [10,15,20,25,30,35], "tickSize": -9, "labels": false, "title": null}},
           "order": {"field": "a", "type": "quantitative"}}},
        {"transform": [{"filter": "datum.s === 'closest'"}],
         "mark": {"type": "line", "color": "#0000FF", "strokeWidth": 3, "clip": true},
         "encoding": {
           "x": {"field": "v", "type": "quantitative", "axis": {"orient": "top", "values": [-20,-10,0,10,20,30,40,50,60,70,80,90,100,110,120,130,140,150,160,170,180,190,200,210,220,230,240,250,260,270,280,290,300,310,320,330,340,350,360,370,380,390,400,410,420,430,440,450,460,470,480,490,500], "tickSize": -4, "labels": false, "title": null}},
           "y": {"field": "a", "type": "quantitative", "axis": {"orient": "right", "values": [10,11,12,13,14,15,16,17,18,19,20,21,22,23,24,25,26,27,28,29,30,31,32,33,34,35,36], "tickSize": -5, "labels": false, "title": null}},
           "order": {"field": "a", "type": "quantitative"}}},
        {"transform": [{"filter": "datum.s === 'err'"}],
         "mark": {"type": "rule", "color": "#0000FF", "strokeWidth": 1.5, "clip": true},
         "encoding": {
           "x": {"field": "lo", "type": "quantitative", "axis": null},
           "x2": {"field": "hi"},
           "y": {"field": "a", "type": "quantitative", "axis": null}}},
        {"transform": [{"filter": "datum.s === 'cryo'"}],
         "mark": {"type": "point", "filled": true, "size": 230, "opacity": 1, "strokeWidth": 0, "clip": true},
         "encoding": {
           "x": {"field": "v", "type": "quantitative", "axis": null},
           "y": {"field": "a", "type": "quantitative", "axis": null},
           "fill": {"field": "s", "type": "nominal",
             "scale": {"domain": ["clim","cryo","closest","mean","coll"], "range": ["#FFA500","#000000","#0000FF","#FF0000","#5F9EA0"]},
             "legend": {"title": null,
               "labelExpr": "{'clim':'MIPAS JJA 2005-2011 in 0-10°S','cryo':'Cryosampler','closest':'MIPAS closest','mean':'MIPAS mean collocated','coll':'MIPAS collocated'}[datum.value]",
               "symbolType": {"expr": "datum.value === 'cryo' ? 'M-29.09,0M0.0909,-0.7273A0.7273,0.7273,0,1,1,0.0909,0.7273A0.7273,0.7273,0,1,1,0.0909,-0.7273ZM6.4545,-0.7273A0.7273,0.7273,0,1,1,6.4545,0.7273A0.7273,0.7273,0,1,1,6.4545,-0.7273ZM0.0909,-0.0455H6.4545V0.0455H0.0909Z' : 'M-29.09,0M0,-0.1364H6.545V0.1364H0Z'"}}}}}
      ]
    },
    {
      "width": 400, "height": 211,
      "title": "CFC-11, 03.10.2009",
      "data": {"name": "p4"},
      "resolve": {"axis": {"x": "independent", "y": "independent"}},
      "layer": [
        {"transform": [{"filter": "datum.s === 'coll'"}],
         "mark": {"type": "line", "color": "#5F9EA0", "strokeWidth": 1, "clip": true},
         "encoding": {
           "x": {"field": "v", "type": "quantitative", "scale": {"domain": [-20, 500], "nice": false, "zero": false}, "axis": {"orient": "bottom", "values": [0,100,200,300,400,500], "tickSize": -8, "labelPadding": 21, "labelFlush": false, "title": "VMR / pptv", "titlePadding": 6}},
           "y": {"field": "a", "type": "quantitative", "scale": {"domain": [10, 36], "nice": false, "zero": false}, "axis": {"orient": "left", "values": [10,15,20,25,30,35], "tickSize": -9, "labelPadding": 15, "labelFlush": 1, "title": null}},
           "detail": {"field": "p"},
           "order": {"field": "a", "type": "quantitative"}}},
        {"data": {"name": "son"},
         "mark": {"type": "line", "color": "#FFA500", "strokeWidth": 3.5, "clip": true},
         "encoding": {
           "x": {"field": "v", "type": "quantitative", "axis": {"orient": "bottom", "values": [-20,-10,0,10,20,30,40,50,60,70,80,90,100,110,120,130,140,150,160,170,180,190,200,210,220,230,240,250,260,270,280,290,300,310,320,330,340,350,360,370,380,390,400,410,420,430,440,450,460,470,480,490,500], "tickSize": -4, "labels": false, "title": null}},
           "y": {"field": "a", "type": "quantitative", "axis": {"orient": "left", "values": [10,11,12,13,14,15,16,17,18,19,20,21,22,23,24,25,26,27,28,29,30,31,32,33,34,35,36], "tickSize": -5, "labels": false, "title": null}},
           "order": {"field": "a", "type": "quantitative"}}},
        {"transform": [{"filter": "datum.s === 'mean'"}],
         "mark": {"type": "line", "color": "#FF0000", "strokeWidth": 3.5, "clip": true},
         "encoding": {
           "x": {"field": "v", "type": "quantitative", "axis": {"orient": "top", "values": [0,100,200,300,400,500], "tickSize": -8, "labels": false, "title": null}},
           "y": {"field": "a", "type": "quantitative", "axis": {"orient": "right", "values": [10,15,20,25,30,35], "tickSize": -9, "labels": false, "title": null}},
           "order": {"field": "a", "type": "quantitative"}}},
        {"transform": [{"filter": "datum.s === 'closest'"}],
         "mark": {"type": "line", "color": "#0000FF", "strokeWidth": 3, "clip": true},
         "encoding": {
           "x": {"field": "v", "type": "quantitative", "axis": {"orient": "top", "values": [-20,-10,0,10,20,30,40,50,60,70,80,90,100,110,120,130,140,150,160,170,180,190,200,210,220,230,240,250,260,270,280,290,300,310,320,330,340,350,360,370,380,390,400,410,420,430,440,450,460,470,480,490,500], "tickSize": -4, "labels": false, "title": null}},
           "y": {"field": "a", "type": "quantitative", "axis": {"orient": "right", "values": [10,11,12,13,14,15,16,17,18,19,20,21,22,23,24,25,26,27,28,29,30,31,32,33,34,35,36], "tickSize": -5, "labels": false, "title": null}},
           "order": {"field": "a", "type": "quantitative"}}},
        {"transform": [{"filter": "datum.s === 'err'"}],
         "mark": {"type": "rule", "color": "#0000FF", "strokeWidth": 1.5, "clip": true},
         "encoding": {
           "x": {"field": "lo", "type": "quantitative", "axis": null},
           "x2": {"field": "hi"},
           "y": {"field": "a", "type": "quantitative", "axis": null}}},
        {"transform": [{"filter": "datum.s === 'cryo'"}],
         "mark": {"type": "point", "filled": true, "size": 230, "opacity": 1, "strokeWidth": 0, "clip": true},
         "encoding": {
           "x": {"field": "v", "type": "quantitative", "axis": null},
           "y": {"field": "a", "type": "quantitative", "axis": null},
           "fill": {"field": "s", "type": "nominal",
             "scale": {"domain": ["clim","cryo","closest","mean","coll"], "range": ["#FFA500","#000000","#0000FF","#FF0000","#5F9EA0"]},
             "legend": {"title": null,
               "labelExpr": "{'clim':'MIPAS SON 2005-2011 in 65°N-75°N','cryo':'Cryosampler','closest':'MIPAS closest','mean':'MIPAS mean collocated','coll':'MIPAS collocated'}[datum.value]",
               "symbolType": {"expr": "datum.value === 'cryo' ? 'M-29.09,0M0.0909,-0.7273A0.7273,0.7273,0,1,1,0.0909,0.7273A0.7273,0.7273,0,1,1,0.0909,-0.7273ZM6.4545,-0.7273A0.7273,0.7273,0,1,1,6.4545,0.7273A0.7273,0.7273,0,1,1,6.4545,-0.7273ZM0.0909,-0.0455H6.4545V0.0455H0.0909Z' : 'M-29.09,0M0,-0.1364H6.545V0.1364H0Z'"}}}}}
      ]
    },
    {
      "width": 400, "height": 211,
      "title": "CFC-11, 01.04.2011",
      "data": {"name": "p5"},
      "resolve": {"axis": {"x": "independent", "y": "independent"}},
      "layer": [
        {"transform": [{"filter": "datum.s === 'coll'"}],
         "mark": {"type": "line", "color": "#5F9EA0", "strokeWidth": 1, "clip": true},
         "encoding": {
           "x": {"field": "v", "type": "quantitative", "scale": {"domain": [-20, 500], "nice": false, "zero": false}, "axis": {"orient": "bottom", "values": [0,100,200,300,400,500], "tickSize": -8, "labelPadding": 21, "labelFlush": false, "title": "VMR / pptv", "titlePadding": 6}},
           "y": {"field": "a", "type": "quantitative", "scale": {"domain": [10, 36], "nice": false, "zero": false}, "axis": {"orient": "left", "values": [10,15,20,25,30,35], "tickSize": -9, "labelPadding": 15, "labelFlush": 1, "title": "Altitude / km", "titlePadding": 12}},
           "detail": {"field": "p"},
           "order": {"field": "a", "type": "quantitative"}}},
        {"data": {"name": "mam"},
         "mark": {"type": "line", "color": "#FFA500", "strokeWidth": 3.5, "clip": true},
         "encoding": {
           "x": {"field": "v", "type": "quantitative", "axis": {"orient": "bottom", "values": [-20,-10,0,10,20,30,40,50,60,70,80,90,100,110,120,130,140,150,160,170,180,190,200,210,220,230,240,250,260,270,280,290,300,310,320,330,340,350,360,370,380,390,400,410,420,430,440,450,460,470,480,490,500], "tickSize": -4, "labels": false, "title": null}},
           "y": {"field": "a", "type": "quantitative", "axis": {"orient": "left", "values": [10,11,12,13,14,15,16,17,18,19,20,21,22,23,24,25,26,27,28,29,30,31,32,33,34,35,36], "tickSize": -5, "labels": false, "title": null}},
           "order": {"field": "a", "type": "quantitative"}}},
        {"transform": [{"filter": "datum.s === 'mean'"}],
         "mark": {"type": "line", "color": "#FF0000", "strokeWidth": 3.5, "clip": true},
         "encoding": {
           "x": {"field": "v", "type": "quantitative", "axis": {"orient": "top", "values": [0,100,200,300,400,500], "tickSize": -8, "labels": false, "title": null}},
           "y": {"field": "a", "type": "quantitative", "axis": {"orient": "right", "values": [10,15,20,25,30,35], "tickSize": -9, "labels": false, "title": null}},
           "order": {"field": "a", "type": "quantitative"}}},
        {"transform": [{"filter": "datum.s === 'closest'"}],
         "mark": {"type": "line", "color": "#0000FF", "strokeWidth": 3, "clip": true},
         "encoding": {
           "x": {"field": "v", "type": "quantitative", "axis": {"orient": "top", "values": [-20,-10,0,10,20,30,40,50,60,70,80,90,100,110,120,130,140,150,160,170,180,190,200,210,220,230,240,250,260,270,280,290,300,310,320,330,340,350,360,370,380,390,400,410,420,430,440,450,460,470,480,490,500], "tickSize": -4, "labels": false, "title": null}},
           "y": {"field": "a", "type": "quantitative", "axis": {"orient": "right", "values": [10,11,12,13,14,15,16,17,18,19,20,21,22,23,24,25,26,27,28,29,30,31,32,33,34,35,36], "tickSize": -5, "labels": false, "title": null}},
           "order": {"field": "a", "type": "quantitative"}}},
        {"transform": [{"filter": "datum.s === 'err'"}],
         "mark": {"type": "rule", "color": "#0000FF", "strokeWidth": 1.5, "clip": true},
         "encoding": {
           "x": {"field": "lo", "type": "quantitative", "axis": null},
           "x2": {"field": "hi"},
           "y": {"field": "a", "type": "quantitative", "axis": null}}},
        {"transform": [{"filter": "datum.s === 'cryo'"}],
         "mark": {"type": "point", "filled": true, "size": 230, "opacity": 1, "strokeWidth": 0, "clip": true},
         "encoding": {
           "x": {"field": "v", "type": "quantitative", "axis": null},
           "y": {"field": "a", "type": "quantitative", "axis": null},
           "fill": {"field": "s", "type": "nominal",
             "scale": {"domain": ["clim","cryo","closest","mean","coll"], "range": ["#FFA500","#000000","#0000FF","#FF0000","#5F9EA0"]},
             "legend": {"title": null,
               "labelExpr": "{'clim':'MIPAS MAM 2005-2011 in 65°N-75°N','cryo':'Cryosampler','closest':'MIPAS closest','mean':'MIPAS mean collocated','coll':'MIPAS collocated'}[datum.value]",
               "symbolType": {"expr": "datum.value === 'cryo' ? 'M-29.09,0M0.0909,-0.7273A0.7273,0.7273,0,1,1,0.0909,0.7273A0.7273,0.7273,0,1,1,0.0909,-0.7273ZM6.4545,-0.7273A0.7273,0.7273,0,1,1,6.4545,0.7273A0.7273,0.7273,0,1,1,6.4545,-0.7273ZM0.0909,-0.0455H6.4545V0.0455H0.0909Z' : 'M-29.09,0M0,-0.1364H6.545V0.1364H0Z'"}}}}}
      ]
    }
  ],
  "config": {
    "font": "Liberation Sans",
    "view": {"stroke": "black", "strokeWidth": 1},
    "axis": {"grid": false, "domain": false, "tickColor": "black", "tickWidth": 1, "labelFont": "Liberation Sans", "labelFontSize": 13, "labelColor": "#222", "labelOverlap": false, "titleFont": "Liberation Sans", "titleFontSize": 14, "titleFontWeight": "normal", "titleColor": "#222"},
    "title": {"font": "Liberation Sans", "fontSize": 18.5, "fontWeight": "normal", "color": "#222", "frame": "group", "anchor": "middle", "offset": 9, "baseline": "alphabetic"},
    "legend": {"orient": "top-right", "offset": 17, "padding": 0, "rowPadding": 0, "labelFont": "Liberation Sans", "labelFontSize": 16, "labelColor": "#222", "labelAlign": "right", "labelOffset": -23, "labelLimit": 0, "symbolSize": 484, "symbolStrokeWidth": 0, "symbolStrokeColor": "transparent", "symbolOpacity": 1}
  }
}
